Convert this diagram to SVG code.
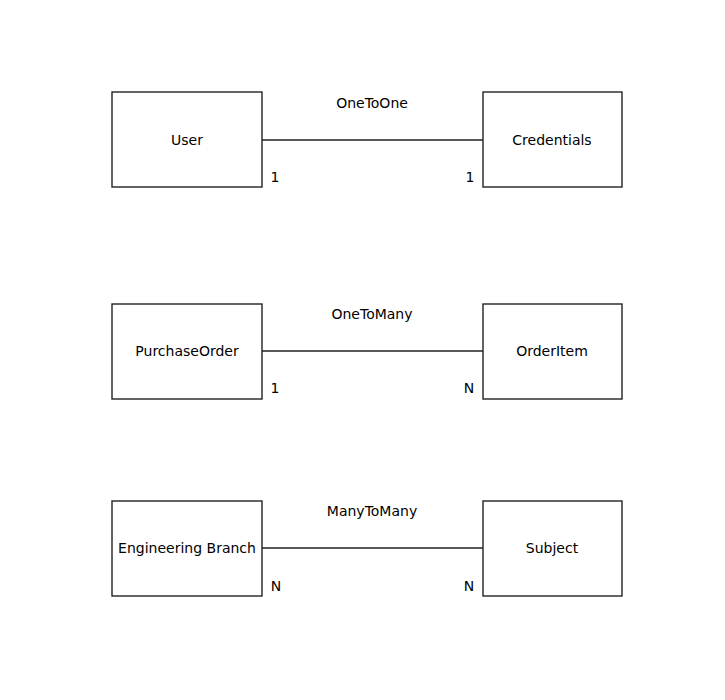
<svg xmlns="http://www.w3.org/2000/svg" width="725" height="700" viewBox="0 0 725 700">
<style>
.box{fill:#fff;stroke:#222;stroke-width:1.4}
.edge{stroke:#222;stroke-width:1.4;fill:none}
text{font-family:"DejaVu Sans","Liberation Sans",sans-serif;font-size:14px;fill:#000}
.c{text-anchor:middle}
</style>
<rect width="725" height="700" fill="#fff"/>
<g id="connectors">
<line class="edge" x1="262" y1="140" x2="483" y2="140"/>
<line class="edge" x1="262" y1="351" x2="483" y2="351"/>
<line class="edge" x1="262" y1="548" x2="483" y2="548"/>
</g>
<g id="labels">
<text class="c" x="372" y="108">OneToOne</text>
<text class="c" x="275" y="182">1</text>
<text class="c" x="470" y="182">1</text>
<text class="c" x="372" y="319">OneToMany</text>
<text class="c" x="275" y="393">1</text>
<text class="c" x="469" y="393">N</text>
<text class="c" x="372" y="516">ManyToMany</text>
<text class="c" x="276" y="591">N</text>
<text class="c" x="469" y="591">N</text>
</g>
<g id="user"><rect class="box" x="112" y="92" width="150" height="95"/><text class="c" x="187" y="145">User</text></g>
<g id="credentials"><rect class="box" x="483" y="92" width="139" height="95"/><text class="c" x="552" y="145">Credentials</text></g>
<g id="purchaseorder"><rect class="box" x="112" y="304" width="150" height="95"/><text class="c" x="187" y="356">PurchaseOrder</text></g>
<g id="orderitem"><rect class="box" x="483" y="304" width="139" height="95"/><text class="c" x="552" y="356">OrderItem</text></g>
<g id="engineeringbranch"><rect class="box" x="112" y="501" width="150" height="95"/><text class="c" x="187" y="553">Engineering Branch</text></g>
<g id="subject"><rect class="box" x="483" y="501" width="139" height="95"/><text class="c" x="552" y="553">Subject</text></g>
</svg>
